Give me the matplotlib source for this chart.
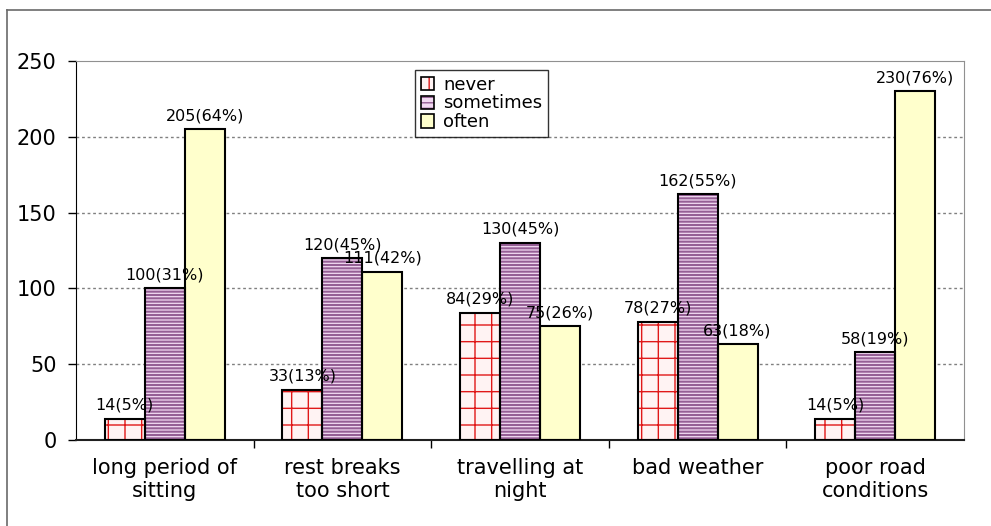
import matplotlib
matplotlib.use("Agg")
import matplotlib.pyplot as plt
import numpy as np
from matplotlib.lines import Line2D
from matplotlib.patches import Patch

categories = ["long period of\nsitting", "rest breaks\ntoo short", "travelling at\nnight",
              "bad weather", "poor road\nconditions"]
never = [14, 33, 84, 78, 14]
sometimes = [100, 120, 130, 162, 58]
often = [205, 111, 75, 63, 230]
never_pct = [5, 13, 29, 27, 5]
sometimes_pct = [31, 45, 45, 55, 19]
often_pct = [64, 42, 26, 18, 76]

plt.rcParams["font.family"] = ["DejaVu Sans"]

fig = plt.figure(figsize=(9.91, 5.26), dpi=100)
ax = fig.add_axes([76 / 991, 1 - 440 / 526, 888 / 991, 379 / 526])

x = np.arange(len(categories))
w = 0.225

NEVER_FACE, NEVER_HATCH = "#FFF3F3", "#E01818"
SOME_FACE, SOME_HATCH = "#F2DAF2", "#955F95"
OFTEN_FACE = "#FFFFCC"

series = [
    (never, never_pct, -w, NEVER_FACE, NEVER_HATCH, "+", 1.0),
    (sometimes, sometimes_pct, 0, SOME_FACE, SOME_HATCH, "-----", 1.5),
    (often, often_pct, w, OFTEN_FACE, None, None, 1.0),
]
for vals, pcts, off, face, hcol, hatch, hlw in series:
    with plt.rc_context({"hatch.linewidth": hlw}):
        if hatch:
            ax.bar(x + off, vals, w, color=face, edgecolor=hcol, hatch=hatch,
                   linewidth=0, zorder=2)
        else:
            ax.bar(x + off, vals, w, color=face, linewidth=0, zorder=2)
    ax.bar(x + off, vals, w, fill=False, edgecolor="black", linewidth=1.5, zorder=3)
    for xi, v, p in zip(x, vals, pcts):
        ax.text(xi + off, v + 4, f"{v}({p}%)", ha="center", va="bottom",
                fontsize=11.5, zorder=4)

ax.set_xlim(-0.5, len(categories) - 0.5)
ax.set_ylim(0, 250)
ax.set_yticks(range(0, 251, 50))
ax.tick_params(axis="y", direction="out", length=6, width=1, labelsize=15, pad=8)
ax.set_xticks(x)
ax.set_xticklabels(categories, fontsize=15, linespacing=1.2)
ax.set_xticks(np.arange(0.5, len(categories) - 0.5, 1), minor=True)
ax.tick_params(axis="x", which="major", length=0, pad=13)
ax.tick_params(axis="x", which="minor", direction="out", length=6, width=1)

for v in [50, 100, 150, 200]:
    ax.axhline(v, color="#808080", linestyle=(0, (2, 2)), linewidth=1, zorder=1)

ax.spines["left"].set_color("black")
ax.spines["bottom"].set_color("#202020")
ax.spines["bottom"].set_linewidth(1.5)
ax.spines["top"].set_color("#909090")
ax.spines["right"].set_color("#909090")

with plt.rc_context({"hatch.linewidth": 1.0}):
    h_never = (Patch(facecolor=NEVER_FACE, edgecolor=NEVER_HATCH, hatch="||", linewidth=0),
               Patch(fill=False, edgecolor="black", linewidth=1.2))
    h_some = (Patch(facecolor=SOME_FACE, edgecolor=SOME_HATCH, hatch="---", linewidth=0),
              Patch(fill=False, edgecolor="black", linewidth=1.2))
    h_often = Patch(facecolor=OFTEN_FACE, edgecolor="black", linewidth=1.2)
leg = ax.legend([h_never, h_some, h_often], ["never", "sometimes", "often"], loc="upper left",
                bbox_to_anchor=(0.382, 0.976), borderaxespad=0, fontsize=13,
                frameon=True, fancybox=False, handlelength=0.75, handleheight=0.75,
                handletextpad=0.5, labelspacing=0.05, borderpad=0.3)
leg.get_frame().set_edgecolor("black")
leg.get_frame().set_linewidth(1)

# outer chart border
fig.add_artist(Line2D([7 / 991, 1], [1 - 10 / 526, 1 - 10 / 526], color="#6A6A6A", linewidth=1.2))
fig.add_artist(Line2D([7 / 991, 7 / 991], [0, 1 - 10 / 526], color="#6A6A6A", linewidth=1.2))

fig.savefig("out.png", dpi=100)
